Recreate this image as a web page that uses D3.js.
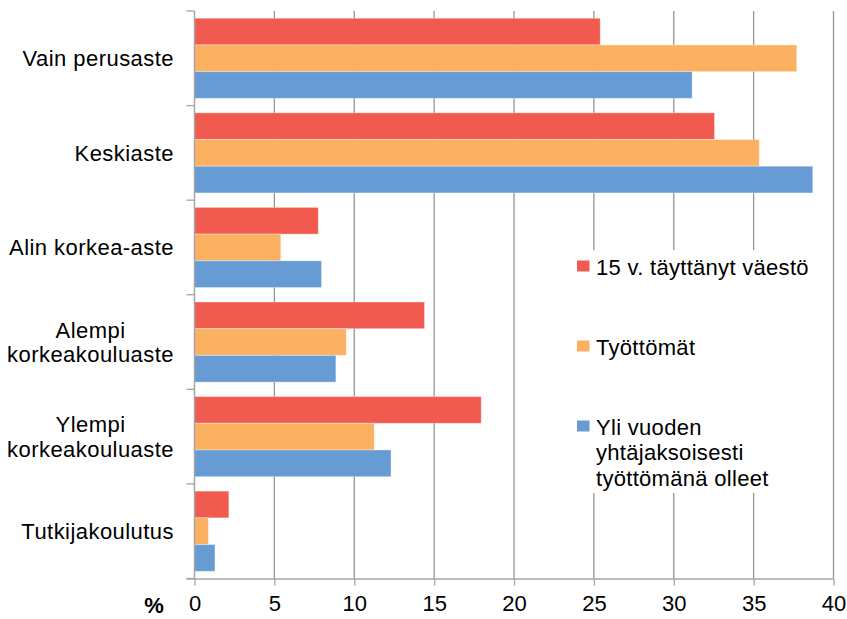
<!DOCTYPE html>
<html>
<head>
<meta charset="utf-8">
<script src="https://cdn.jsdelivr.net/npm/d3@7"></script>
<style>
  body { margin: 0; background: #fff; }
  text { font-family: "Liberation Sans", Arial, sans-serif; fill: #000; }
</style>
</head>
<body>
<div id="chart"></div>
<script>
// horizontal grouped bars, three series per education level

const categories = [
  ["Vain perusaste"],
  ["Keskiaste"],
  ["Alin korkea-aste"],
  ["Alempi", "korkeakouluaste"],
  ["Ylempi", "korkeakouluaste"],
  ["Tutkijakoulutus"]
];

const seriesNames = [
  ["15 v. täyttänyt väestö"],
  ["Työttömät"],
  ["Yli vuoden", "yhtäjaksoisesti", "työttömänä olleet"]
];

const population = [25.4, 32.55, 7.75, 14.4, 17.95, 2.15];
const unemployed = [37.7, 35.35, 5.4, 9.5, 11.25, 0.87];
const longTerm = [31.15, 38.7, 7.95, 8.85, 12.3, 1.28];

const xTicks = [0, 5, 10, 15, 20, 25, 30, 35, 40];
const colors = ["#F15B4F", "#FBB062", "#669BD3"];

const W = 847, H = 619;
const plotL = 194.5, plotR = 833.5, plotT = 11, plotB = 578.5;

const svg = d3.select("#chart").append("svg")
  .attr("width", W)
  .attr("height", H);

const x = d3.scaleLinear().domain([0, 40]).range([plotL, plotR]);
const y = d3.scaleBand()
  .domain(d3.range(categories.length))
  .range([plotT, plotB])
  .paddingInner(0.153)
  .paddingOuter(0.0765);
const ySub = d3.scaleBand().domain([0, 1, 2]).range([0, y.bandwidth()]);

// gridlines
svg.append("g")
  .selectAll("line")
  .data(xTicks.slice(1))
  .enter()
  .append("line")
  .attr("x1", d => x(d)).attr("x2", d => x(d))
  .attr("y1", plotT).attr("y2", plotB)
  .attr("stroke", "#959595")
  .attr("stroke-width", 1.3);

// bars
const allSeries = [population, unemployed, longTerm];
allSeries.forEach((vals, s) => {
  svg.append("g")
    .selectAll("rect")
    .data(vals)
    .enter()
    .append("rect")
    .attr("x", x(0))
    .attr("y", (d, i) => y(i) + ySub(s))
    .attr("width", d => x(d) - x(0))
    .attr("height", ySub.bandwidth())
    .attr("fill", colors[s])
    .attr("stroke", "rgba(255,255,255,0.35)")
    .attr("stroke-width", 1);
});

// x axis
const xAxis = svg.append("g")
  .attr("transform", `translate(0,${plotB})`)
  .call(d3.axisBottom(x).tickValues(xTicks).tickSize(7).tickPadding(10));
xAxis.select(".domain").attr("stroke", "#a6a6a6").attr("stroke-width", 1.5)
  .attr("d", `M${plotL - 8},0.5H${plotR}`);
xAxis.selectAll(".tick line").attr("stroke", "#a6a6a6").attr("stroke-width", 1.3);
xAxis.selectAll(".tick text")
  .attr("font-size", 22)
  .attr("font-family", "Liberation Sans, Arial, sans-serif")
  .attr("fill", "#000")
  .attr("dy", "0.71em");

svg.append("text")
  .attr("x", 154)
  .attr("y", 613)
  .attr("text-anchor", "middle")
  .attr("font-size", 22)
  .attr("font-weight", "bold")
  .text("%");

// y axis line and ticks
const yEdges = d3.range(categories.length + 1).map(i => plotT + i * y.step());
svg.append("line")
  .attr("x1", plotL).attr("x2", plotL)
  .attr("y1", plotT).attr("y2", plotB)
  .attr("stroke", "#a6a6a6").attr("stroke-width", 1.5);
svg.append("g")
  .selectAll("line")
  .data(yEdges)
  .enter()
  .append("line")
  .attr("x1", plotL - 8).attr("x2", plotL)
  .attr("y1", d => d).attr("y2", d => d)
  .attr("stroke", "#a6a6a6").attr("stroke-width", 1.3);

// category labels, multi-line labels centred on each other, block right-aligned
const labelRight = 174;
const lineH = 24.6;
categories.forEach((lines, i) => {
  const g = svg.append("g");
  const cy = y(i) + y.bandwidth() / 2;
  const first = cy + 8 - (lines.length - 1) * lineH / 2;
  const texts = lines.map((t, j) => g.append("text")
    .attr("y", first + j * lineH)
    .attr("font-size", 22)
    .attr("letter-spacing", 0.45)
    .attr("text-anchor", "middle")
    .text(t));
  const maxW = d3.max(texts, t => t.node().getComputedTextLength());
  texts.forEach(t => t.attr("x", labelRight - maxW / 2));
});

// legend
svg.append("rect")
  .attr("x", 568).attr("y", 250)
  .attr("width", 258).attr("height", 243)
  .attr("fill", "#fff");

const legendBase = [275, 355, 435];
seriesNames.forEach((lines, s) => {
  svg.append("rect")
    .attr("x", 577).attr("y", legendBase[s] - 14.5)
    .attr("width", 12.5).attr("height", 11)
    .attr("fill", colors[s]);
  lines.forEach((t, j) => {
    svg.append("text")
      .attr("x", 596)
      .attr("y", legendBase[s] + j * 25.3)
      .attr("font-size", 22)
      .attr("letter-spacing", 0.3)
      .text(t);
  });
});
</script>
</body>
</html>
